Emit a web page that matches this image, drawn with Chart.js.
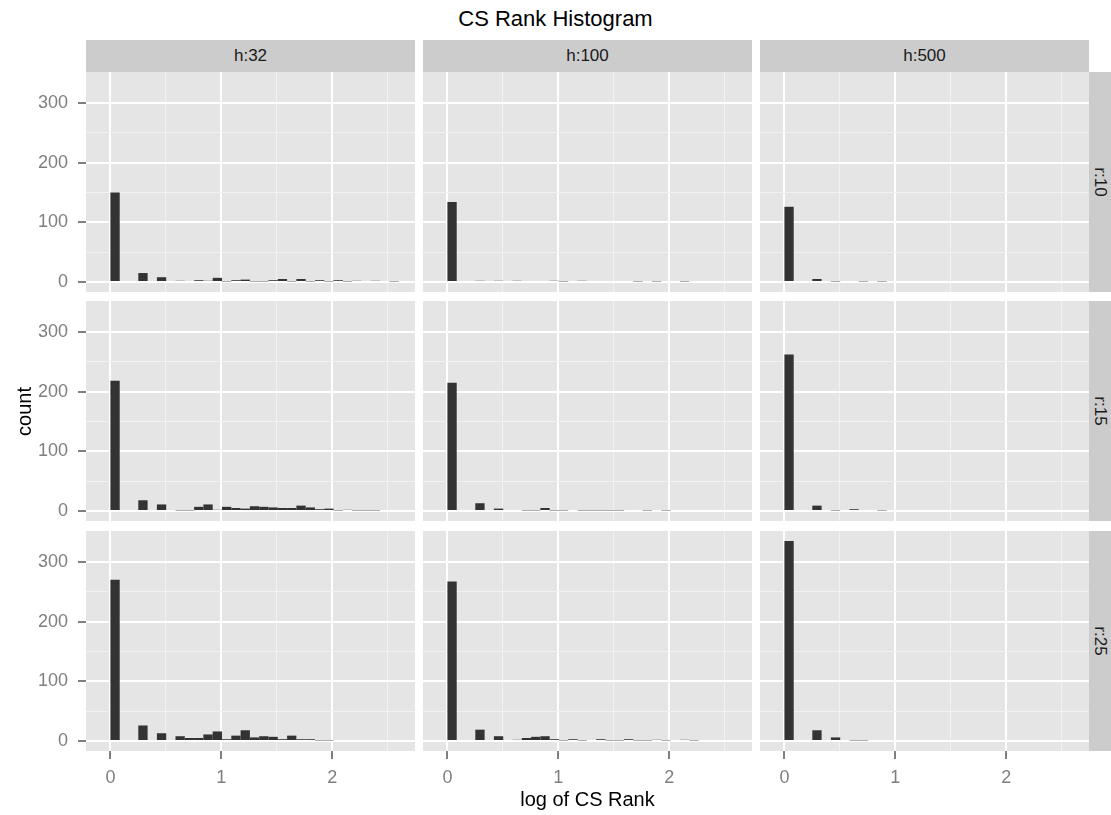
<!DOCTYPE html>
<html>
<head>
<meta charset="utf-8">
<title>CS Rank Histogram</title>
<script src="https://cdn.jsdelivr.net/npm/chart.js@4.4.0/dist/chart.umd.min.js"></script>
<style>
body{margin:0;background:#fff;font-family:"Liberation Sans",Arial,sans-serif;}
#plot{position:relative;width:1111px;height:815px;overflow:hidden;background:#fff;}
#plot canvas{position:absolute;}
.strip{position:absolute;background:#ccc;color:#1a1a1a;font-size:17px;display:flex;align-items:center;justify-content:center;}
.strip.side span{display:block;transform:rotate(90deg);white-space:nowrap;}
.label{position:absolute;color:#000;white-space:nowrap;}
</style>
</head>
<body>
<div id="plot"></div>
<script>
const binWidth=0.0838;
const colLabels=["h:32","h:100","h:500"];
const rowLabels=["r:10","r:15","r:25"];
const xTicks=[0,0.5,1,1.5,2,2.5];
const yTicks=[0,50,100,150,200,250,300];

// histogram counts, bin k covers [k*binWidth, (k+1)*binWidth)
const r10h32 =[150,0,0,15,0,8,0,2,0,3,2,7,1,3,4,1,1,3,5,1,5,1,3,1,3,1,2,0,2,0,1];
const r10h100=[134,0,0,2,0,2,0,2,0,0,0,2,1,0,2,0,0,0,0,0,1,0,1,0,0,1,0,0,0,0,0];
const r10h500=[126,0,0,5,0,1,0,0,1,0,1,0,0,0,0,0,0,0,0,0,0,0,0,0,0,0,0,0,0,0,0];
const r15h32 =[218,0,0,18,0,11,0,1,1,7,11,2,7,5,4,8,7,6,5,5,9,6,3,4,1,2,1,1,1,0,0];
const r15h100=[215,0,0,13,0,4,0,0,1,1,5,1,1,0,1,1,1,1,1,0,0,1,0,1,0,0,0,0,0,0,0];
const r15h500=[262,0,0,9,0,1,0,3,0,0,1,0,0,0,0,0,0,0,0,0,0,0,0,0,0,0,0,0,0,0,0];
const r25h32 =[270,0,0,26,0,13,0,8,5,5,11,16,3,9,18,6,8,7,3,9,3,3,1,1,0,0,0,0,0,0,0];
const r25h100=[267,0,0,19,0,8,0,2,5,7,8,3,1,3,1,0,3,1,1,3,1,1,2,1,0,2,1,0,0,0,0];
const r25h500=[335,0,0,18,0,6,0,1,1,0,0,0,0,0,0,0,0,0,0,0,0,0,0,0,0,0,0,0,0,0,0];

const panels=[
  [r10h32,r10h100,r10h500],
  [r15h32,r15h100,r15h500],
  [r25h32,r25h100,r25h500]
];

const xMin=-0.22, xMax=2.745;
const yMin=-16.75, yMax=351.75;

const panelLeft=[86,423,760], panelTop=[72,301,531];
const panelW=329, panelH=220;
const yAxisW=86, xAxisH=64;

Chart.defaults.font.family="'Liberation Sans', Arial, sans-serif";

const panelBg={
  id:'panelBg',
  beforeDraw(chart){
    const a=chart.chartArea, c=chart.ctx;
    c.save();
    c.fillStyle='#E5E5E5';
    c.fillRect(a.left,a.top,a.right-a.left,a.bottom-a.top);
    c.restore();
  }
};

const plot=document.getElementById('plot');

function addDiv(cls,text,css){
  const d=document.createElement('div');
  d.className=cls;
  d.innerHTML=text;
  Object.assign(d.style,css);
  plot.appendChild(d);
  return d;
}

// axis boxes keep a fixed size and no label overhang padding
function fixBox(s,size){
  if(s.isHorizontal()) s.height=size; else s.width=size;
  s.paddingTop=s.paddingBottom=s.paddingLeft=s.paddingRight=0;
}

function makePanel(counts,row,col){
  const showY=col===0, showX=row===panels.length-1;
  const w=panelW+(showY?yAxisW:0), h=panelH+(showX?xAxisH:0);
  const canvas=document.createElement('canvas');
  canvas.width=w; canvas.height=h;
  canvas.style.width=w+'px'; canvas.style.height=h+'px';
  canvas.style.left=(showY?panelLeft[col]-yAxisW:panelLeft[col])+'px';
  canvas.style.top=panelTop[row]+'px';
  plot.appendChild(canvas);

  const isMajor=(v,step)=>Math.abs(v/step-Math.round(v/step))<1e-6;

  new Chart(canvas,{
    type:'bar',
    data:{
      datasets:[{
        data:counts.map((c,k)=>({x:(k+0.5)*binWidth,y:c})),
        backgroundColor:'#333333',
        borderWidth:0,
        inflateAmount:0,
        barPercentage:1,
        categoryPercentage:1
      }]
    },
    plugins:[panelBg],
    options:{
      responsive:false,
      maintainAspectRatio:false,
      animation:false,
      events:[],
      layout:{padding:0},
      plugins:{legend:{display:false},tooltip:{enabled:false},title:{display:false}},
      scales:{
        x:{
          type:'linear',min:xMin,max:xMax,offset:false,
          afterBuildTicks:s=>{s.ticks=xTicks.map(v=>({value:v}));},
          afterFit:s=>fixBox(s,showX?xAxisH:0),
          border:{display:false},
          grid:{
            offset:false,
            color:c=>isMajor(c.tick.value,1)?'#FFFFFF':'#F2F2F2',
            lineWidth:c=>isMajor(c.tick.value,1)?2:1,
            drawTicks:showX,tickLength:8,tickWidth:2,
            tickColor:c=>isMajor(c.tick.value,1)?'#7F7F7F':'rgba(0,0,0,0)'
          },
          ticks:{
            display:showX,autoSkip:false,maxRotation:0,padding:8,
            color:'#7F7F7F',font:{size:18},
            callback:v=>isMajor(v,1)?String(v):''
          }
        },
        y:{
          min:yMin,max:yMax,
          afterBuildTicks:s=>{s.ticks=yTicks.map(v=>({value:v}));},
          afterFit:s=>fixBox(s,showY?yAxisW:0),
          border:{display:false},
          grid:{
            color:c=>isMajor(c.tick.value,100)?'#FFFFFF':'#F2F2F2',
            lineWidth:c=>isMajor(c.tick.value,100)?2:1,
            drawTicks:showY,tickLength:8,tickWidth:2,
            tickColor:c=>isMajor(c.tick.value,100)?'#7F7F7F':'rgba(0,0,0,0)'
          },
          ticks:{
            display:showY,autoSkip:false,padding:10,
            color:'#7F7F7F',font:{size:18},
            callback:v=>isMajor(v,100)?String(v):''
          }
        }
      }
    }
  });
}

panels.forEach((rowData,r)=>rowData.forEach((counts,c)=>makePanel(counts,r,c)));

// facet strips
colLabels.forEach((t,c)=>addDiv('strip',t,{left:panelLeft[c]+'px',top:'40px',width:panelW+'px',height:'32px'}));
rowLabels.forEach((t,r)=>addDiv('strip side','<span>'+t+'</span>',{left:(panelLeft[2]+panelW)+'px',top:panelTop[r]+'px',width:'22px',height:panelH+'px'}));

// titles
addDiv('label','CS Rank Histogram',{left:'0px',width:'1111px',top:'6px',textAlign:'center',fontSize:'22px'});
addDiv('label','log of CS Rank',{left:panelLeft[0]+'px',width:(panelLeft[2]+panelW-panelLeft[0])+'px',top:'788px',textAlign:'center',fontSize:'20px'});
addDiv('label','<span style="display:inline-block;transform:rotate(-90deg)">count</span>',{left:'0px',top:'400px',width:'40px',textAlign:'center',fontSize:'20px'});
</script>
</body>
</html>
